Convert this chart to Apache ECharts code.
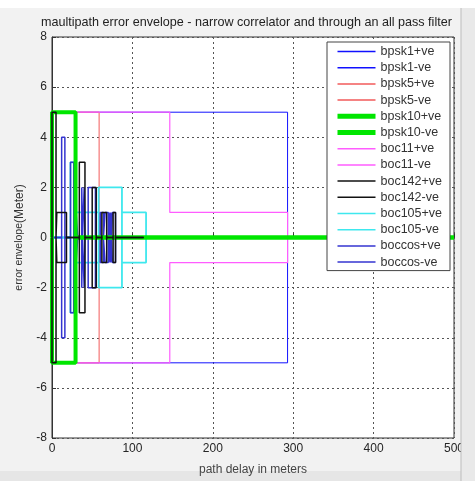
<!DOCTYPE html>
<html>
<head>
<meta charset="utf-8">
<script src="https://cdn.jsdelivr.net/npm/echarts@6/dist/echarts.min.js"></script>
<style>
  html, body { margin: 0; padding: 0; background: #f2f2f2; }
  #chart { width: 475px; height: 481px; }
</style>
</head>
<body>
<div id="chart"></div>
<script>
// path delay (m) and error envelope (m)
const bpsk1Delay = [0, 0, 293, 293, 500]
const bpsk1Pos = [0, 5, 5, 0, 0]
const bpsk1Neg = [0, -5, -5, 0, 0]

const bpsk5Delay = [0, 0, 58.6, 58.6, 500]
const bpsk5Pos = [0, 5, 5, 0, 0]
const bpsk5Neg = [0, -5, -5, 0, 0]

const bpsk10Delay = [0, 0, 29.3, 29.3, 500]
const bpsk10Pos = [0, 5, 5, 0, 0]
const bpsk10Neg = [0, -5, -5, 0, 0]

const boc11Delay = [0, 0, 146.5, 146.5, 293, 293, 500]
const boc11Pos = [0, 5, 5, 1, 1, 0, 0]
const boc11Neg = [0, -5, -5, -1, -1, 0, 0]

const boc142Delay = [0, 0, 5, 5, 6, 6, 18, 18, 34, 34, 41, 41, 50, 50, 55, 55, 62, 62, 68, 68, 76, 76, 79, 79, 114]
const boc142Pos = [0, 5, 5, 0, 0, 1, 1, 0, 0, 3, 3, 0, 0, 2, 2, 0, 0, 1, 1, 0, 0, 1, 1, 0, 0]
const boc142Neg = [0, -5, -5, 0, 0, -1, -1, 0, 0, -3, -3, 0, 0, -2, -2, 0, 0, -1, -1, 0, 0, -1, -1, 0, 0]

const boc105Delay = [0, 23, 23, 29, 29, 58, 58, 58, 87, 87, 87, 117, 117, 500]
const boc105Pos = [0, 0, 3, 3, 1, 1, 0, 2, 2, 0, 1, 1, 0, 0]
const boc105Neg = [0, 0, -3, -3, -1, -1, 0, -2, -2, 0, -1, -1, 0, 0]

const boccosDelay = [0, 0, 1, 1, 12, 12, 16, 16, 23, 23, 27, 27, 30, 30, 32, 32, 37, 37, 38, 38, 40, 40, 41, 41,
  45, 45, 54, 54, 60, 60, 64, 64, 66, 66, 70, 70, 71, 71, 72, 72, 73, 73, 74, 74, 75, 75, 79, 79, 500]
const boccosPos = [0, 5, 5, 0, 0, 4, 4, 0, 0, 3, 3, 0, 0, 1, 1, 0, 0, 2, 2, 0, 0, 2, 2, 0,
  0, 2, 2, 0, 0, 1, 1, 0, 0, 1, 1, 0, 0, 1, 1, 0, 0, 1, 1, 0, 0, 1, 1, 0, 0]
const boccosNeg = [0, -5, -5, 0, 0, -4, -4, 0, 0, -3, -3, 0, 0, -1, -1, 0, 0, -2, -2, 0, 0, -2, -2, 0,
  0, -2, -2, 0, 0, -1, -1, 0, 0, -1, -1, 0, 0, -1, -1, 0, 0, -1, -1, 0, 0, -1, -1, 0, 0]

const xTicks = [0, 100, 200, 300, 400, 500]
const yTicks = [-8, -6, -4, -2, 0, 2, 4, 6, 8]

function pairs(xs, ys) {
  return xs.map((x, i) => [x, ys[i]])
}

function line(name, xs, ys, color, width, z) {
  return {
    name,
    type: 'line',
    data: pairs(xs, ys),
    symbol: 'none',
    animation: false,
    z: z || 2,
    lineStyle: { color, width },
    itemStyle: { color }
  }
}

const series = [
  line('bpsk1+ve', bpsk1Delay, bpsk1Pos, '#1010ff', 1),
  line('bpsk1-ve', bpsk1Delay, bpsk1Neg, '#1010ff', 1),
  line('bpsk5+ve', bpsk5Delay, bpsk5Pos, '#f25a5a', 1),
  line('bpsk5-ve', bpsk5Delay, bpsk5Neg, '#f25a5a', 1),
  line('bpsk10+ve', bpsk10Delay, bpsk10Pos, '#00e600', 4, 3),
  line('bpsk10-ve', bpsk10Delay, bpsk10Neg, '#00e600', 4, 3),
  line('boc11+ve', boc11Delay, boc11Pos, '#ff5cff', 1.2),
  line('boc11-ve', boc11Delay, boc11Neg, '#ff5cff', 1.2),
  line('boc142+ve', boc142Delay, boc142Pos, '#111111', 1.5, 4),
  line('boc142-ve', boc142Delay, boc142Neg, '#111111', 1.5, 4),
  line('boc105+ve', boc105Delay, boc105Pos, '#3ee8ee', 1.8),
  line('boc105-ve', boc105Delay, boc105Neg, '#3ee8ee', 1.8),
  line('boccos+ve', boccosDelay, boccosPos, '#3434d0', 1.5),
  line('boccos-ve', boccosDelay, boccosNeg, '#3434d0', 1.5)
]

const legendData = series.map(s => ({
  name: s.name,
  lineStyle: { width: s.lineStyle.width >= 4 ? 5 : 1.5 }
}))

const chart = echarts.init(document.getElementById('chart'))
chart.setOption({
  backgroundColor: '#f2f2f2',
  animation: false,
  textStyle: { fontFamily: 'Liberation Sans, Arial, sans-serif' },
  title: {
    text: 'maultipath error envelope - narrow correlator and through an all pass filter',
    left: 41,
    top: 16,
    padding: 0,
    textStyle: { fontSize: 12.6, fontWeight: 'normal', color: '#222' }
  },
  grid: {
    left: 52,
    right: 21,
    top: 37,
    bottom: 34,
    show: true,
    backgroundColor: '#ffffff',
    borderColor: '#333',
    borderWidth: 1
  },
  legend: {
    orient: 'vertical',
    left: 327,
    top: 42,
    padding: [3, 8, 2, 8],
    itemWidth: 38,
    itemHeight: 14,
    itemGap: 3.2,
    backgroundColor: '#ffffff',
    borderColor: '#444',
    borderWidth: 1,
    selectedMode: false,
    itemStyle: { opacity: 0 },
    textStyle: { fontSize: 12.5, color: '#333' },
    data: legendData
  },
  xAxis: {
    type: 'value',
    min: xTicks[0],
    max: xTicks[xTicks.length - 1],
    interval: 100,
    name: 'path delay in meters',
    nameLocation: 'middle',
    nameGap: 26,
    nameTextStyle: { fontSize: 12, color: '#444' },
    axisLine: { lineStyle: { color: '#333' } },
    axisTick: { inside: true, length: 4, lineStyle: { color: '#333' } },
    axisLabel: { fontSize: 12, color: '#262626', margin: 5 },
    splitLine: { show: true, lineStyle: { color: '#555', type: [2, 3], width: 1 } }
  },
  yAxis: {
    type: 'value',
    min: yTicks[0],
    max: yTicks[yTicks.length - 1],
    interval: 2,
    name: '{a|error envelope}{b|(Meter)}',
    nameLocation: 'middle',
    nameGap: 25,
    nameTextStyle: {
      color: '#333',
      rich: {
        a: { fontSize: 10.5, color: '#333' },
        b: { fontSize: 12, color: '#333' }
      }
    },
    axisLine: { lineStyle: { color: '#333' } },
    axisTick: { inside: true, length: 4, lineStyle: { color: '#333' } },
    axisLabel: { fontSize: 12, color: '#262626', margin: 5 },
    splitLine: { show: true, lineStyle: { color: '#555', type: [2, 3], width: 1 } }
  },
  graphic: [
    { type: 'rect', left: 0, top: 0, shape: { width: 475, height: 8 }, style: { fill: '#ffffff' }, z: 0 },
    { type: 'rect', left: 461, top: 8, shape: { width: 14, height: 473 }, style: { fill: '#e9e9e9' }, z: 100 },
    { type: 'line', shape: { x1: 461, y1: 8, x2: 461, y2: 481 }, style: { stroke: '#bdbdbd', lineWidth: 1 }, z: 101 },
    { type: 'rect', left: 0, top: 471, shape: { width: 461, height: 10 }, style: { fill: '#e6e6e6' }, z: -1 }
  ],
  series
})
</script>
</body>
</html>
